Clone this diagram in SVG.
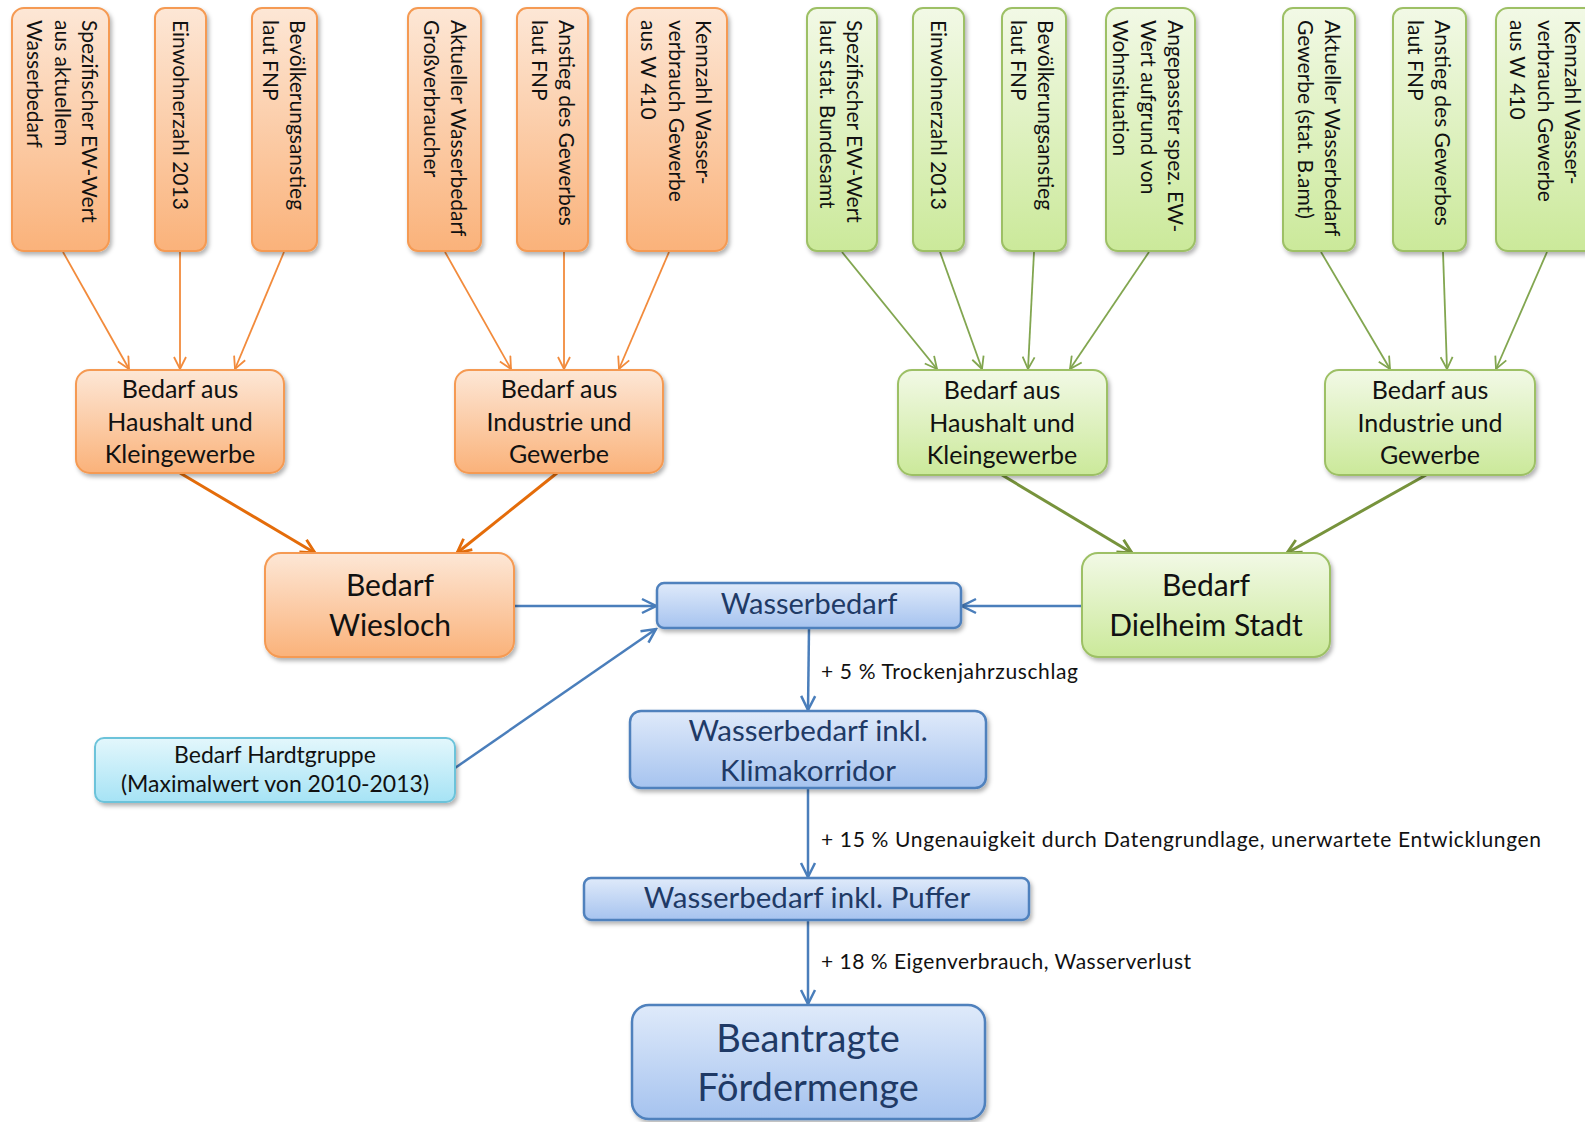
<svg xmlns="http://www.w3.org/2000/svg" width="1585" height="1122" viewBox="0 0 1585 1122">
<style>
text{font-family:Lato,"Liberation Sans",sans-serif;}
.vt{font-size:21px;fill:#111;}
.mt{font-size:25px;fill:#111;text-anchor:middle;}
.ht{font-size:23px;fill:#111;text-anchor:middle;}
.bt{font-size:30px;fill:#111;text-anchor:middle;}
.blt{fill:#1F3A66;text-anchor:middle;}
.lab{font-size:21px;fill:#111;}
.or{fill:url(#gO);stroke:#F59A52;stroke-width:2;filter:url(#sh);}
.gr{fill:url(#gG);stroke:#9DC065;stroke-width:2;filter:url(#sh);}
.bl{fill:url(#gB);stroke:#4F81BD;stroke-width:2.5;filter:url(#sh);}
.cy{fill:url(#gC);stroke:#6CC3DA;stroke-width:2;filter:url(#sh);}
.ot{stroke:#F28B3C;stroke-width:1.8;fill:none;marker-end:url(#mOt);}
.oT{stroke:#E46C0A;stroke-width:3;fill:none;marker-end:url(#mOT);}
.gt{stroke:#82A650;stroke-width:1.8;fill:none;marker-end:url(#mGt);}
.gT{stroke:#77933C;stroke-width:3;fill:none;marker-end:url(#mGT);}
.bc{stroke:#4A7EBB;stroke-width:2.5;fill:none;marker-end:url(#mB);}
</style>
<defs>
<linearGradient id="gO" x1="0" y1="0" x2="0" y2="1"><stop offset="0" stop-color="#FDE7D6"/><stop offset="1" stop-color="#FAB27A"/></linearGradient>
<linearGradient id="gG" x1="0" y1="0" x2="0" y2="1"><stop offset="0" stop-color="#F2F9E6"/><stop offset="1" stop-color="#CBE99A"/></linearGradient>
<linearGradient id="gB" x1="0" y1="0" x2="0" y2="1"><stop offset="0" stop-color="#DFEAFA"/><stop offset="1" stop-color="#A6C3EF"/></linearGradient>
<linearGradient id="gC" x1="0" y1="0" x2="0" y2="1"><stop offset="0" stop-color="#E3F7FC"/><stop offset="1" stop-color="#A6E3F5"/></linearGradient>
<filter id="sh" x="-10%" y="-10%" width="130%" height="130%"><feDropShadow dx="2" dy="3" stdDeviation="2" flood-color="#000" flood-opacity="0.3"/></filter>
<marker id="mOt" markerUnits="userSpaceOnUse" viewBox="0 0 14 14" refX="13" refY="7" markerWidth="14" markerHeight="14" orient="auto"><path d="M1,1 L13,7 L1,13" fill="none" stroke="#F28B3C" stroke-width="1.8"/></marker>
<marker id="mGt" markerUnits="userSpaceOnUse" viewBox="0 0 14 14" refX="13" refY="7" markerWidth="14" markerHeight="14" orient="auto"><path d="M1,1 L13,7 L1,13" fill="none" stroke="#82A650" stroke-width="1.8"/></marker>
<marker id="mOT" markerUnits="userSpaceOnUse" viewBox="0 0 18 18" refX="16" refY="9" markerWidth="18" markerHeight="18" orient="auto"><path d="M2,2 L16,9 L2,16" fill="none" stroke="#E46C0A" stroke-width="2.8"/></marker>
<marker id="mGT" markerUnits="userSpaceOnUse" viewBox="0 0 18 18" refX="16" refY="9" markerWidth="18" markerHeight="18" orient="auto"><path d="M2,2 L16,9 L2,16" fill="none" stroke="#77933C" stroke-width="2.8"/></marker>
<marker id="mB" markerUnits="userSpaceOnUse" viewBox="0 0 18 18" refX="16" refY="9" markerWidth="18" markerHeight="18" orient="auto"><path d="M2,2 L16,9 L2,16" fill="none" stroke="#4A7EBB" stroke-width="2.5"/></marker>
</defs>
<rect width="1585" height="1122" fill="#fff"/>

<g id="connectors">
<path class="ot" d="M63,252 L129,369"/>
<path class="ot" d="M180,252 L180,369"/>
<path class="ot" d="M284,252 L235,369"/>
<path class="ot" d="M445,252 L511,369"/>
<path class="ot" d="M564,252 L564,369"/>
<path class="ot" d="M669,252 L619,369"/>
<path class="gt" d="M842,252 L937,369"/>
<path class="gt" d="M940,252 L982,369"/>
<path class="gt" d="M1034,252 L1028,369"/>
<path class="gt" d="M1149,252 L1070,369"/>
<path class="gt" d="M1321,252 L1390,369"/>
<path class="gt" d="M1443,252 L1447,369"/>
<path class="gt" d="M1547,252 L1496,369"/>
<path class="oT" d="M180,473 L315,553"/>
<path class="oT" d="M557,473 L457,553"/>
<path class="gT" d="M1002,475 L1132,553"/>
<path class="gT" d="M1426,475 L1287,553"/>
<path class="bc" d="M514,606 L656,606"/>
<path class="bc" d="M1082,606 L962,606"/>
<path class="bc" d="M455,768 L656,629"/>
<path class="bc" d="M809,628 L808,710"/>
<path class="bc" d="M808,788 L808,877"/>
<path class="bc" d="M808,920 L808,1004"/>
<text class="lab" x="821" y="679" textLength="257">+ 5 % Trockenjahrzuschlag</text>
<text class="lab" x="821" y="847" textLength="720">+ 15 % Ungenauigkeit durch  Datengrundlage, unerwartete Entwicklungen</text>
<text class="lab" x="821" y="969" textLength="370">+ 18 % Eigenverbrauch, Wasserverlust</text>
</g>

<g id="o1"><rect class="or" x="12" y="8" width="97" height="243" rx="12"/>
<text class="vt" transform="translate(82,20) rotate(90)"><tspan x="0" y="0">Spezifischer EW-Wert</tspan><tspan x="0" dy="27.5">aus aktuellem</tspan><tspan x="0" dy="27.5">Wasserbedarf</tspan></text></g>
<g id="o2"><rect class="or" x="155" y="8" width="51" height="243" rx="10"/>
<text class="vt" transform="translate(173,20) rotate(90)">Einwohnerzahl 2013</text></g>
<g id="o3"><rect class="or" x="252" y="8" width="65" height="243" rx="10"/>
<text class="vt" transform="translate(290,20) rotate(90)"><tspan x="0" y="0">Bevölkerungsanstieg</tspan><tspan x="0" dy="27.5">laut FNP</tspan></text></g>
<g id="o4"><rect class="or" x="408" y="8" width="73" height="243" rx="10"/>
<text class="vt" transform="translate(451,20) rotate(90)"><tspan x="0" y="0">Aktueller Wasserbedarf</tspan><tspan x="0" dy="27.5">Großverbraucher</tspan></text></g>
<g id="o5"><rect class="or" x="517" y="8" width="71" height="243" rx="10"/>
<text class="vt" transform="translate(559,20) rotate(90)"><tspan x="0" y="0">Anstieg des Gewerbes</tspan><tspan x="0" dy="27.5">laut FNP</tspan></text></g>
<g id="o6"><rect class="or" x="627" y="8" width="100" height="243" rx="12"/>
<text class="vt" transform="translate(696,20) rotate(90)"><tspan x="0" y="0">Kennzahl Wasser-</tspan><tspan x="0" dy="27.5">verbrauch Gewerbe</tspan><tspan x="0" dy="27.5">aus W 410</tspan></text></g>

<g id="g1"><rect class="gr" x="807" y="8" width="70" height="243" rx="10"/>
<text class="vt" transform="translate(847,20) rotate(90)"><tspan x="0" y="0">Spezifischer EW-Wert</tspan><tspan x="0" dy="27.5">laut stat. Bundesamt</tspan></text></g>
<g id="g2"><rect class="gr" x="913" y="8" width="51" height="243" rx="10"/>
<text class="vt" transform="translate(931,20) rotate(90)">Einwohnerzahl 2013</text></g>
<g id="g3"><rect class="gr" x="1002" y="8" width="64" height="243" rx="10"/>
<text class="vt" transform="translate(1038,20) rotate(90)"><tspan x="0" y="0">Bevölkerungsanstieg</tspan><tspan x="0" dy="27.5">laut FNP</tspan></text></g>
<g id="g4"><rect class="gr" x="1106" y="8" width="89" height="243" rx="12"/>
<text class="vt" transform="translate(1168,20) rotate(90)"><tspan x="0" y="0">Angepasster spez. EW-</tspan><tspan x="0" dy="27.5">Wert aufgrund von</tspan><tspan x="0" dy="27.5">Wohnsituation</tspan></text></g>
<g id="g5"><rect class="gr" x="1283" y="8" width="72" height="243" rx="10"/>
<text class="vt" transform="translate(1325,20) rotate(90)"><tspan x="0" y="0">Aktueller Wasserbedarf</tspan><tspan x="0" dy="27.5">Gewerbe  (stat. B.amt)</tspan></text></g>
<g id="g6"><rect class="gr" x="1393" y="8" width="73" height="243" rx="10"/>
<text class="vt" transform="translate(1435,20) rotate(90)"><tspan x="0" y="0">Anstieg des Gewerbes</tspan><tspan x="0" dy="27.5">laut FNP</tspan></text></g>
<g id="g7"><rect class="gr" x="1496" y="8" width="104" height="243" rx="12"/>
<text class="vt" transform="translate(1565,20) rotate(90)"><tspan x="0" y="0">Kennzahl Wasser-</tspan><tspan x="0" dy="27.5">verbrauch Gewerbe</tspan><tspan x="0" dy="27.5">aus W 410</tspan></text></g>

<g id="ohk"><rect class="or" x="76" y="370" width="208" height="103" rx="14"/>
<text class="mt" x="180" y="398">Bedarf aus</text><text class="mt" x="180" y="431">Haushalt und</text><text class="mt" x="180" y="463">Kleingewerbe</text></g>
<g id="oig"><rect class="or" x="455" y="370" width="208" height="103" rx="14"/>
<text class="mt" x="559" y="398">Bedarf aus</text><text class="mt" x="559" y="431">Industrie und</text><text class="mt" x="559" y="463">Gewerbe</text></g>
<g id="ghk"><rect class="gr" x="898" y="370" width="209" height="105" rx="14"/>
<text class="mt" x="1002" y="399">Bedarf aus</text><text class="mt" x="1002" y="432">Haushalt und</text><text class="mt" x="1002" y="464">Kleingewerbe</text></g>
<g id="gig"><rect class="gr" x="1325" y="370" width="210" height="105" rx="14"/>
<text class="mt" x="1430" y="399">Bedarf aus</text><text class="mt" x="1430" y="432">Industrie und</text><text class="mt" x="1430" y="464">Gewerbe</text></g>

<g id="wiesloch"><rect class="or" x="265" y="553" width="249" height="104" rx="16"/>
<text class="bt" x="390" y="596">Bedarf</text><text class="bt" x="390" y="636">Wiesloch</text></g>
<g id="dielheim"><rect class="gr" x="1082" y="553" width="248" height="104" rx="16"/>
<text class="bt" x="1206" y="596">Bedarf</text><text class="bt" x="1206" y="636">Dielheim Stadt</text></g>

<g id="wasserbedarf"><rect class="bl" x="657" y="583" width="304" height="45" rx="7"/>
<text class="blt" x="809" y="614" font-size="29">Wasserbedarf</text></g>
<g id="hardt"><rect class="cy" x="95" y="738" width="360" height="64" rx="9"/>
<text class="ht" x="275" y="763">Bedarf Hardtgruppe</text><text class="ht" x="275" y="792">(Maximalwert von 2010-2013)</text></g>
<g id="klima"><rect class="bl" x="630" y="711" width="356" height="77" rx="11"/>
<text class="blt" x="808" y="741" font-size="29.5">Wasserbedarf inkl.</text><text class="blt" x="808" y="781" font-size="29.5">Klimakorridor</text></g>
<g id="puffer"><rect class="bl" x="584" y="878" width="445" height="42" rx="7"/>
<text class="blt" x="807" y="908" font-size="29.5">Wasserbedarf inkl. Puffer</text></g>
<g id="foerder"><rect class="bl" x="632" y="1005" width="353" height="114" rx="17"/>
<text class="blt" x="808" y="1052" font-size="38">Beantragte</text><text class="blt" x="808" y="1101" font-size="38">Fördermenge</text></g>
</svg>
